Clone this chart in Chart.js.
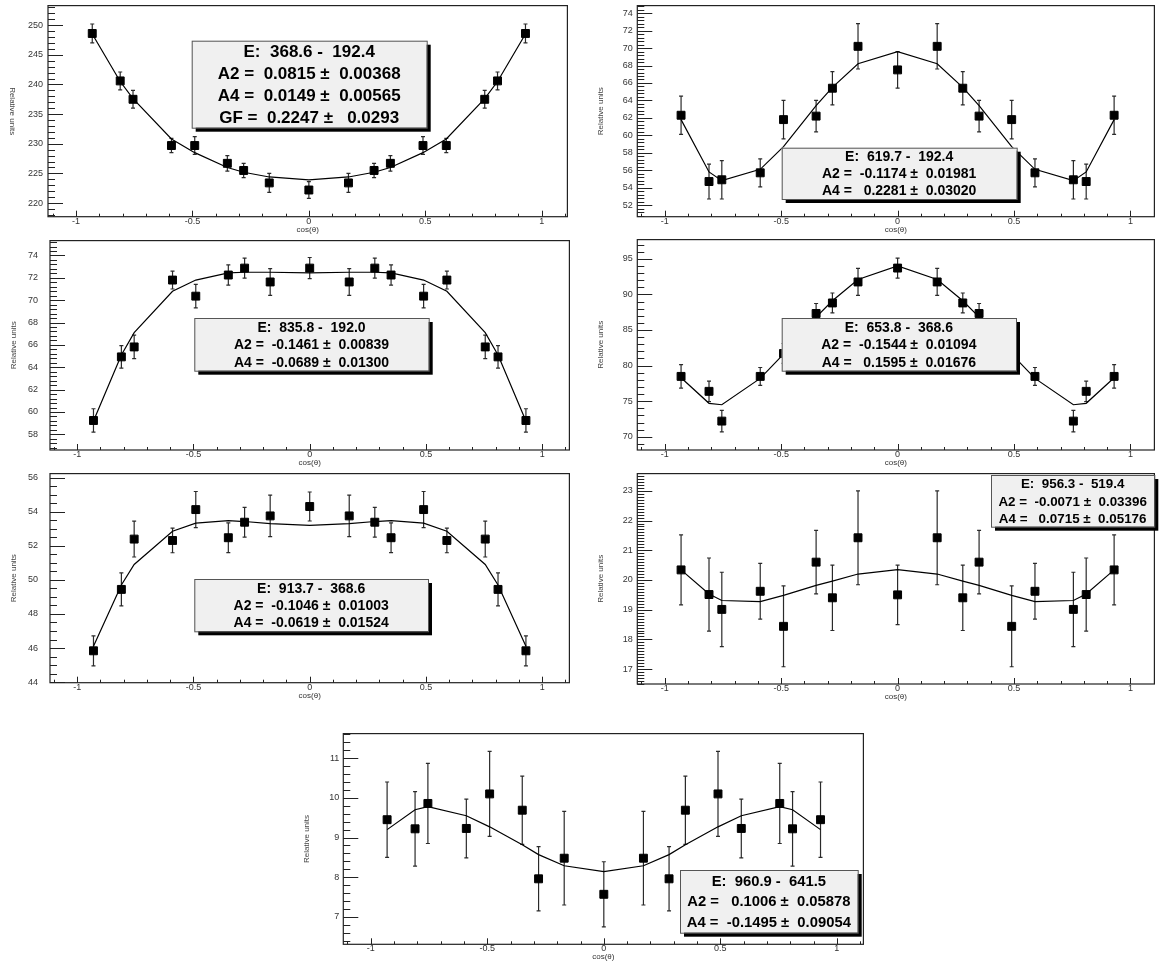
<!DOCTYPE html>
<html>
<head>
<meta charset="utf-8">
<script src="https://cdn.jsdelivr.net/npm/chart.js@4.4.1/dist/chart.umd.min.js"></script>
<style>
  body { margin: 0; background: #fff; width: 1159px; height: 964px; position: relative; overflow: hidden; }
  canvas { position: absolute; }
</style>
</head>
<body>
<script>
// angle positions shared by every panel
const cosTheta = [-0.93, -0.81, -0.755, -0.59, -0.49, -0.35, -0.28, -0.17, 0, 0.17, 0.28, 0.35, 0.49, 0.59, 0.755, 0.81, 0.93];
const xTicks = [-1, -0.5, 0, 0.5, 1];

// E: 368.6 - 192.4
const p1Values = [248.6, 240.6, 237.5, 229.7, 229.7, 226.7, 225.5, 223.4, 222.2, 223.4, 225.5, 226.7, 229.7, 229.7, 237.5, 240.6, 248.6];
const p1Errors = [1.6, 1.5, 1.5, 1.2, 1.5, 1.3, 1.2, 1.6, 1.4, 1.6, 1.2, 1.3, 1.5, 1.2, 1.5, 1.5, 1.6];
const p1Fit    = [248.5, 240.5, 237.6, 230.8, 228.5, 226.0, 225.2, 224.4, 223.9, 224.4, 225.2, 226.0, 228.5, 230.8, 237.6, 240.5, 248.5];
const p1YTicks = [220, 225, 230, 235, 240, 245, 250];
const p1Text = ['E:  368.6 -  192.4', 'A2 =  0.0815 \u00b1  0.00368', 'A4 =  0.0149 \u00b1  0.00565', 'GF =  0.2247 \u00b1   0.0293'];

// E: 619.7 - 192.4
const p2Values = [62.3, 54.7, 54.9, 55.7, 61.8, 62.2, 65.4, 70.2, 67.5, 70.2, 65.4, 62.2, 61.8, 55.7, 54.9, 54.7, 62.3];
const p2Errors = [2.2, 2.0, 2.2, 1.6, 2.2, 1.8, 1.9, 2.6, 2.1, 2.6, 1.9, 1.8, 2.2, 1.6, 2.2, 2.0, 2.2];
const p2Fit    = [61.8, 55.8, 54.8, 56.1, 58.7, 63.4, 65.5, 68.2, 69.6, 68.2, 65.5, 63.4, 58.7, 56.1, 54.8, 55.8, 61.8];
const p2YTicks = [52, 54, 56, 58, 60, 62, 64, 66, 68, 70, 72, 74];
const p2Text = ['E:  619.7 -  192.4', 'A2 =  -0.1174 \u00b1  0.01981', 'A4 =   0.2281 \u00b1  0.03020'];

// E: 835.8 - 192.0
const p3Values = [59.24, 64.93, 65.82, 71.8, 70.36, 72.25, 72.87, 71.63, 72.87, 71.63, 72.87, 72.25, 70.36, 71.8, 65.82, 64.93, 59.24];
const p3Errors = [1.05, 1.0, 1.05, 0.8, 1.05, 0.9, 0.9, 1.2, 0.95, 1.2, 0.9, 0.9, 1.05, 0.8, 1.05, 1.0, 1.05];
const p3Fit    = [59.2, 65.1, 67.1, 70.8, 71.8, 72.45, 72.5, 72.5, 72.45, 72.5, 72.5, 72.45, 71.8, 70.8, 67.1, 65.1, 59.2];
const p3YTicks = [58, 60, 62, 64, 66, 68, 70, 72, 74];
const p3Text = ['E:  835.8 -  192.0', 'A2 =  -0.1461 \u00b1  0.00839', 'A4 =  -0.0689 \u00b1  0.01300'];

// E: 653.8 - 368.6
const p4Values = [78.48, 76.38, 72.2, 78.48, 81.7, 87.32, 88.8, 91.75, 93.7, 91.75, 88.8, 87.32, 81.7, 78.48, 72.2, 76.38, 78.48];
const p4Errors = [1.65, 1.45, 1.5, 1.25, 1.4, 1.4, 1.4, 1.9, 1.4, 1.9, 1.4, 1.4, 1.4, 1.25, 1.5, 1.45, 1.65];
const p4Fit    = [78.3, 74.7, 74.5, 78.2, 81.6, 86.8, 89.1, 92.1, 94.0, 92.1, 89.1, 86.8, 81.6, 78.2, 74.5, 74.7, 78.3];
const p4YTicks = [70, 75, 80, 85, 90, 95];
const p4Text = ['E:  653.8 -  368.6', 'A2 =  -0.1544 \u00b1  0.01094', 'A4 =   0.1595 \u00b1  0.01676'];

// E: 913.7 - 368.6
const p5Values = [45.84, 49.44, 52.39, 52.31, 54.12, 52.47, 53.38, 53.75, 54.3, 53.75, 53.38, 52.47, 54.12, 52.31, 52.39, 49.44, 45.84];
const p5Errors = [0.88, 0.97, 1.05, 0.72, 1.06, 0.87, 0.87, 1.22, 0.85, 1.22, 0.87, 0.87, 1.06, 0.72, 1.05, 0.97, 0.88];
const p5Fit    = [46.1, 49.7, 50.9, 52.85, 53.33, 53.47, 53.42, 53.3, 53.2, 53.3, 53.42, 53.47, 53.33, 52.85, 50.9, 49.7, 46.1];
const p5YTicks = [44, 46, 48, 50, 52, 54, 56];
const p5Text = ['E:  913.7 -  368.6', 'A2 =  -0.1046 \u00b1  0.01003', 'A4 =  -0.0619 \u00b1  0.01524'];

// E: 956.3 - 519.4
const p6Values = [20.34, 19.51, 19.01, 19.62, 18.44, 20.6, 19.4, 21.42, 19.5, 21.42, 19.4, 20.6, 18.44, 19.62, 19.01, 19.51, 20.34];
const p6Errors = [1.18, 1.23, 1.25, 0.94, 1.36, 1.07, 1.1, 1.58, 1.0, 1.58, 1.1, 1.07, 1.36, 0.94, 1.25, 1.23, 1.18];
const p6Fit    = [20.34, 19.53, 19.31, 19.27, 19.48, 19.82, 19.96, 20.2, 20.35, 20.2, 19.96, 19.82, 19.48, 19.27, 19.31, 19.53, 20.34];
const p6YTicks = [17, 18, 19, 20, 21, 22, 23];
const p6Text = ['E:  956.3 -  519.4', 'A2 =  -0.0071 \u00b1  0.03396', 'A4 =   0.0715 \u00b1  0.05176'];

// E: 960.9 - 641.5
const p7Values = [9.45, 9.22, 9.86, 9.23, 10.1, 9.69, 7.96, 8.48, 7.57, 8.48, 7.96, 9.69, 10.1, 9.23, 9.86, 9.22, 9.45];
const p7Errors = [0.95, 0.94, 1.01, 0.74, 1.07, 0.86, 0.81, 1.18, 0.82, 1.18, 0.81, 0.86, 1.07, 0.74, 1.01, 0.94, 0.95];
const p7Fit    = [9.2, 9.7, 9.78, 9.55, 9.27, 8.82, 8.57, 8.29, 8.14, 8.29, 8.57, 8.82, 9.27, 9.55, 9.78, 9.7, 9.2];
const p7YTicks = [7, 8, 9, 10, 11];
const p7Text = ['E:  960.9 -  641.5', 'A2 =   0.1006 \u00b1  0.05878', 'A4 =  -0.1495 \u00b1  0.09054'];

const FONT = "'Liberation Sans', Arial, Helvetica, sans-serif";
Chart.defaults.font.family = FONT;

// frame = page pixels [left, top, right, bottom], box = page pixels of the stats pave
const panels = [
  { values: p1Values, errors: p1Errors, fit: p1Fit, yTicks: p1YTicks, text: p1Text,
    frame: [48, 4.5, 571, 216.7], xr: [-1.12, 1.11], yr: [217.7, 253.3], minor: 1, labelPad: 5,
    box: [191.7, 40.7, 426.7, 127.7], fs: 17, flipTitle: true },
  { values: p2Values, errors: p2Errors, fit: p2Fit, yTicks: p2YTicks, text: p2Text,
    frame: [637.3, 4.7, 1157.5, 216.7], xr: [-1.118, 1.103], yr: [50.67, 74.87], minor: 0.4, labelPad: 4.5,
    box: [781.7, 147.7, 1016.7, 199], fs: 14 },
  { values: p3Values, errors: p3Errors, fit: p3Fit, yTicks: p3YTicks, text: p3Text,
    frame: [50, 239.3, 573, 450], xr: [-1.117, 1.117], yr: [56.6, 75.33], minor: 0.4, labelPad: 12,
    box: [194.3, 318, 428.7, 370.7], fs: 14 },
  { values: p4Values, errors: p4Errors, fit: p4Fit, yTicks: p4YTicks, text: p4Text,
    frame: [637.3, 238.3, 1157.5, 450], xr: [-1.118, 1.103], yr: [68.14, 97.7], minor: 1, labelPad: 4.5,
    box: [781.7, 318, 1016, 370.7], fs: 14 },
  { values: p5Values, errors: p5Errors, fit: p5Fit, yTicks: p5YTicks, text: p5Text,
    frame: [50, 472.7, 573, 682.7], xr: [-1.117, 1.117], yr: [43.97, 56.23], minor: 0.5, labelPad: 12,
    box: [194.3, 579, 428, 631.3], fs: 14 },
  { values: p6Values, errors: p6Errors, fit: p6Fit, yTicks: p6YTicks, text: p6Text,
    frame: [637.3, 472.7, 1157.5, 684], xr: [-1.118, 1.103], yr: [16.5, 23.58], minor: 0.1, labelPad: 4.5,
    box: [991, 475, 1154.3, 526.7], fs: 13.4 },
  { values: p7Values, errors: p7Errors, fit: p7Fit, yTicks: p7YTicks, text: p7Text,
    frame: [343.3, 732.7, 866.7, 944.3], xr: [-1.118, 1.114], yr: [6.31, 11.62], minor: 0.2, labelPad: 4,
    box: [680, 870, 857.7, 932.7], fs: 14.8 }
];

function rootLook(p, cx, cy) {
  return {
    id: 'rootLook',
    beforeDatasetsDraw(chart) {
      const { ctx, chartArea: a } = chart;
      const xs = chart.scales.x, ys = chart.scales.y;
      ctx.save();
      ctx.beginPath();
      ctx.rect(a.left, a.top, a.width, a.height);
      ctx.clip();
      ctx.strokeStyle = '#2a2a2a';
      ctx.lineWidth = 1.2;
      cosTheta.forEach((c, i) => {
        const px = xs.getPixelForValue(c);
        const top = ys.getPixelForValue(p.values[i] + p.errors[i]);
        const bot = ys.getPixelForValue(p.values[i] - p.errors[i]);
        ctx.beginPath();
        ctx.moveTo(px, top); ctx.lineTo(px, bot);
        ctx.moveTo(px - 2, top); ctx.lineTo(px + 2, top);
        ctx.moveTo(px - 2, bot); ctx.lineTo(px + 2, bot);
        ctx.stroke();
      });
      ctx.restore();
    },
    afterDraw(chart) {
      const { ctx, chartArea: a } = chart;
      const xs = chart.scales.x, ys = chart.scales.y;
      ctx.save();
      // frame
      ctx.strokeStyle = '#222';
      ctx.lineWidth = 1.2;
      ctx.strokeRect(a.left, a.top, a.width, a.height);

      // y ticks, inside the frame on the left
      ctx.lineWidth = 1;
      const major = p.yTicks[1] - p.yTicks[0];
      const k0 = Math.ceil(p.yr[0] / p.minor - 1e-6), k1 = Math.floor(p.yr[1] / p.minor + 1e-6);
      ctx.beginPath();
      for (let k = k0; k <= k1; k++) {
        const v = k * p.minor;
        const isMajor = Math.abs(v / major - Math.round(v / major)) < 1e-6;
        const py = Math.round(ys.getPixelForValue(v)) + 0.5;
        ctx.moveTo(a.left, py);
        ctx.lineTo(a.left + (isMajor ? 15 : 7), py);
      }
      // x ticks, inside the frame at the bottom
      for (let k = -11; k <= 11; k++) {
        const px = Math.round(xs.getPixelForValue(k / 10)) + 0.5;
        ctx.moveTo(px, a.bottom);
        ctx.lineTo(px, a.bottom - (k % 5 === 0 ? 6 : 3));
      }
      ctx.stroke();

      // y title flipped for the first pad
      if (p.flipTitle) {
        ctx.save();
        ctx.translate(p.frame[0] - 36 - cx, (a.top + a.bottom) / 2);
        ctx.rotate(Math.PI / 2);
        ctx.fillStyle = '#444';
        ctx.font = '8px ' + FONT;
        ctx.textAlign = 'center';
        ctx.textBaseline = 'middle';
        ctx.fillText('Relative units', 0, 0);
        ctx.restore();
      }

      // stats box with shadow
      const bx = p.box[0] - cx, by = p.box[1] - cy;
      const bw = p.box[2] - p.box[0], bh = p.box[3] - p.box[1];
      ctx.fillStyle = '#000';
      ctx.fillRect(bx + 4, by + 4, bw, bh);
      ctx.fillStyle = '#f0f0f0';
      ctx.fillRect(bx, by, bw, bh);
      ctx.strokeStyle = '#555';
      ctx.lineWidth = 1;
      ctx.strokeRect(bx + 0.5, by + 0.5, bw, bh);
      ctx.fillStyle = '#000';
      ctx.font = 'bold ' + p.fs + 'px ' + FONT;
      ctx.textAlign = 'center';
      ctx.textBaseline = 'middle';
      const n = p.text.length;
      p.text.forEach((t, i) => {
        ctx.fillText(t, bx + bw / 2, by + bh * (i + 0.5) / n + 1);
      });
      ctx.restore();
    }
  };
}

panels.forEach(p => {
  const [fl, ft, fr, fb] = p.frame;
  const cx = Math.floor(fl - 41), cy = Math.floor(ft - 5);
  const cw = Math.ceil(fr + 3 - cx), ch = Math.round(fb + 18 - cy);
  const canvas = document.createElement('canvas');
  canvas.width = cw; canvas.height = ch;
  canvas.style.left = cx + 'px'; canvas.style.top = cy + 'px';
  canvas.style.width = cw + 'px'; canvas.style.height = ch + 'px';
  document.body.appendChild(canvas);

  new Chart(canvas.getContext('2d'), {
    type: 'scatter',
    data: {
      datasets: [
        {
          data: cosTheta.map((x, i) => ({ x, y: p.fit[i] })),
          showLine: true, borderColor: '#000', borderWidth: 1.2,
          pointRadius: 0, order: 1
        },
        {
          data: cosTheta.map((x, i) => ({ x, y: p.values[i] })),
          pointStyle: 'rect', pointRadius: 5.6,
          backgroundColor: '#000', borderColor: '#000', borderWidth: 1, order: 0
        }
      ]
    },
    options: {
      responsive: false,
      animation: false,
      devicePixelRatio: 1,
      layout: { padding: { left: 0, top: ft - cy, right: cx + cw - fr, bottom: 0 } },
      plugins: { legend: { display: false }, tooltip: { enabled: false } },
      scales: {
        x: {
          type: 'linear', min: p.xr[0], max: p.xr[1], offset: false,
          afterBuildTicks: s => { s.ticks = xTicks.map(v => ({ value: v })); },
          afterFit: s => { s.height = cy + ch - fb; s.paddingLeft = 0; s.paddingRight = 0; },
          ticks: { callback: v => String(v), font: { size: 9 }, color: '#333', padding: -1, maxRotation: 0, autoSkip: false },
          grid: { display: false, drawTicks: false },
          border: { display: false },
          title: { display: true, text: 'cos(\u03b8)', font: { size: 8 }, color: '#333', padding: 0 }
        },
        y: {
          type: 'linear', min: p.yr[0], max: p.yr[1],
          afterBuildTicks: s => { s.ticks = p.yTicks.map(v => ({ value: v })); },
          afterFit: s => { s.width = fl - cx; s.paddingTop = 0; s.paddingBottom = 0; },
          ticks: { callback: v => String(v), font: { size: 9 }, color: '#333', padding: p.labelPad, autoSkip: false },
          grid: { display: false, drawTicks: false },
          border: { display: false },
          title: { display: !p.flipTitle, text: 'Relative units', font: { size: 8 }, color: '#444', padding: 0 }
        }
      }
    },
    plugins: [rootLook(p, cx, cy)]
  });
});
</script>
</body>
</html>
